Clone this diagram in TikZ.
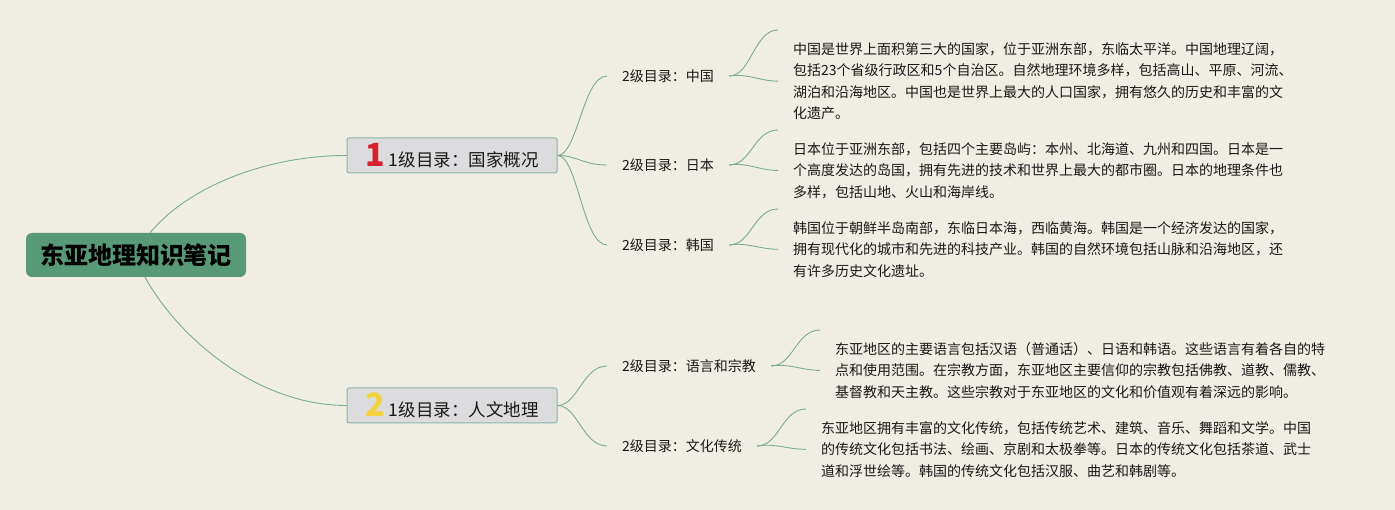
\documentclass[tikz,border=0pt]{standalone}
\usepackage{fontspec}
\setmainfont{Noto Sans CJK SC}
\definecolor{bgc}{HTML}{F0EDE4}
\definecolor{rootc}{RGB}{88,153,120}
\definecolor{linec}{RGB}{122,172,148}
\definecolor{boxc}{RGB}{220,220,222}
\definecolor{boxb}{RGB}{140,182,166}
\definecolor{numred}{RGB}{214,32,44}
\definecolor{numyel}{RGB}{244,210,62}
\definecolor{txtc}{RGB}{25,25,25}
\begin{document}
\begin{tikzpicture}[x=1pt,y=-1pt,
  rootnode/.style={rectangle,rounded corners=6pt,fill=rootc,minimum width=220pt,minimum height=44pt,inner sep=0pt,font=\fontsize{24}{24}\selectfont\bfseries,text=black},
  lonebox/.style={rectangle,rounded corners=2pt,fill=boxc,draw=boxb,line width=1pt,minimum width=210pt,minimum height=35pt,inner sep=0pt,font=\fontsize{17.5}{17.5}\selectfont,text=txtc},
  ltwo/.style={anchor=west,inner xsep=15pt,inner ysep=4pt,font=\fontsize{14}{14}\selectfont,text=txtc},
  body/.style={anchor=north west,inner xsep=15pt,inner ysep=12pt,align=left,font=\fontsize{14}{21.6}\selectfont,text=txtc},
  conn/.style={draw=linec,line width=0.9pt}]
\fill[bgc] (0,0) rectangle (1395,510);
\useasboundingbox (0,0) rectangle (1395,510);

\node[rootnode] (root) at (136,255) {东亚地理知识笔记};
\node[lonebox] (a) at (452,155.5) {{\fontsize{32}{32}\selectfont\bfseries\color{numred}1}\hspace{4pt}1级目录：国家概况};
\node[lonebox] (b) at (452,405.5) {{\fontsize{32}{32}\selectfont\bfseries\color{numyel}2}\hspace{4pt}1级目录：人文地理};

\node[ltwo] (l1) at (607,76) {2级目录：中国};
\node[ltwo] (l2) at (607,165) {2级目录：日本};
\node[ltwo] (l3) at (607,245) {2级目录：韩国};
\node[ltwo] (l4) at (607,366) {2级目录：语言和宗教};
\node[ltwo] (l5) at (607,446) {2级目录：文化传统};

\node[body] (t1) at (778,30) {中国是世界上面积第三大的国家，位于亚洲东部，东临太平洋。中国地理辽阔，\\%
包括23个省级行政区和5个自治区。自然地理环境多样，包括高山、平原、河流、\\%
湖泊和沿海地区。中国也是世界上最大的人口国家，拥有悠久的历史和丰富的文\\%
化遗产。};
\node[body] (t2) at (778,130) {日本位于亚洲东部，包括四个主要岛屿：本州、北海道、九州和四国。日本是一\\%
个高度发达的岛国，拥有先进的技术和世界上最大的都市圈。日本的地理条件也\\%
多样，包括山地、火山和海岸线。};
\node[body] (t3) at (778,209) {韩国位于朝鲜半岛南部，东临日本海，西临黄海。韩国是一个经济发达的国家，\\%
拥有现代化的城市和先进的科技产业。韩国的自然环境包括山脉和沿海地区，还\\%
有许多历史文化遗址。};
\node[body] (t4) at (820,330) {东亚地区的主要语言包括汉语（普通话）、日语和韩语。这些语言有着各自的特\\%
点和使用范围。在宗教方面，东亚地区主要信仰的宗教包括佛教、道教、儒教、\\%
基督教和天主教。这些宗教对于东亚地区的文化和价值观有着深远的影响。};
\node[body] (t5) at (806,409) {东亚地区拥有丰富的文化传统，包括传统艺术、建筑、音乐、舞蹈和文学。中国\\%
的传统文化包括书法、绘画、京剧和太极拳等。日本的传统文化包括茶道、武士\\%
道和浮世绘等。韩国的传统文化包括汉服、曲艺和韩剧等。};

% root to level 1
\draw[conn] ([xshift=14pt]root.north) .. controls +(40,-48) and +(-77,0) .. (a.west);
\draw[conn] ([xshift=9pt]root.south) .. controls +(35,63) and +(-87,0) .. (b.west);

% level 1 to level 2
\foreach \s/\t in {a/l1,a/l2,a/l3,b/l4,b/l5}{
  \draw[conn] (\s.east) .. controls +(20,0) and +(-24,0) .. (\t.west);
}

% brackets
\foreach \l/\t in {l1/t1,l2/t2,l3/t3,l4/t4,l5/t5}{
  \draw[conn] (\l.east) .. controls +(22,0) and +(-24,0) .. (\t.north west);
  \draw[conn] (\l.east) .. controls +(17,-3) and +(-18,0) .. (\t.west);
}
\end{tikzpicture}
\end{document}
